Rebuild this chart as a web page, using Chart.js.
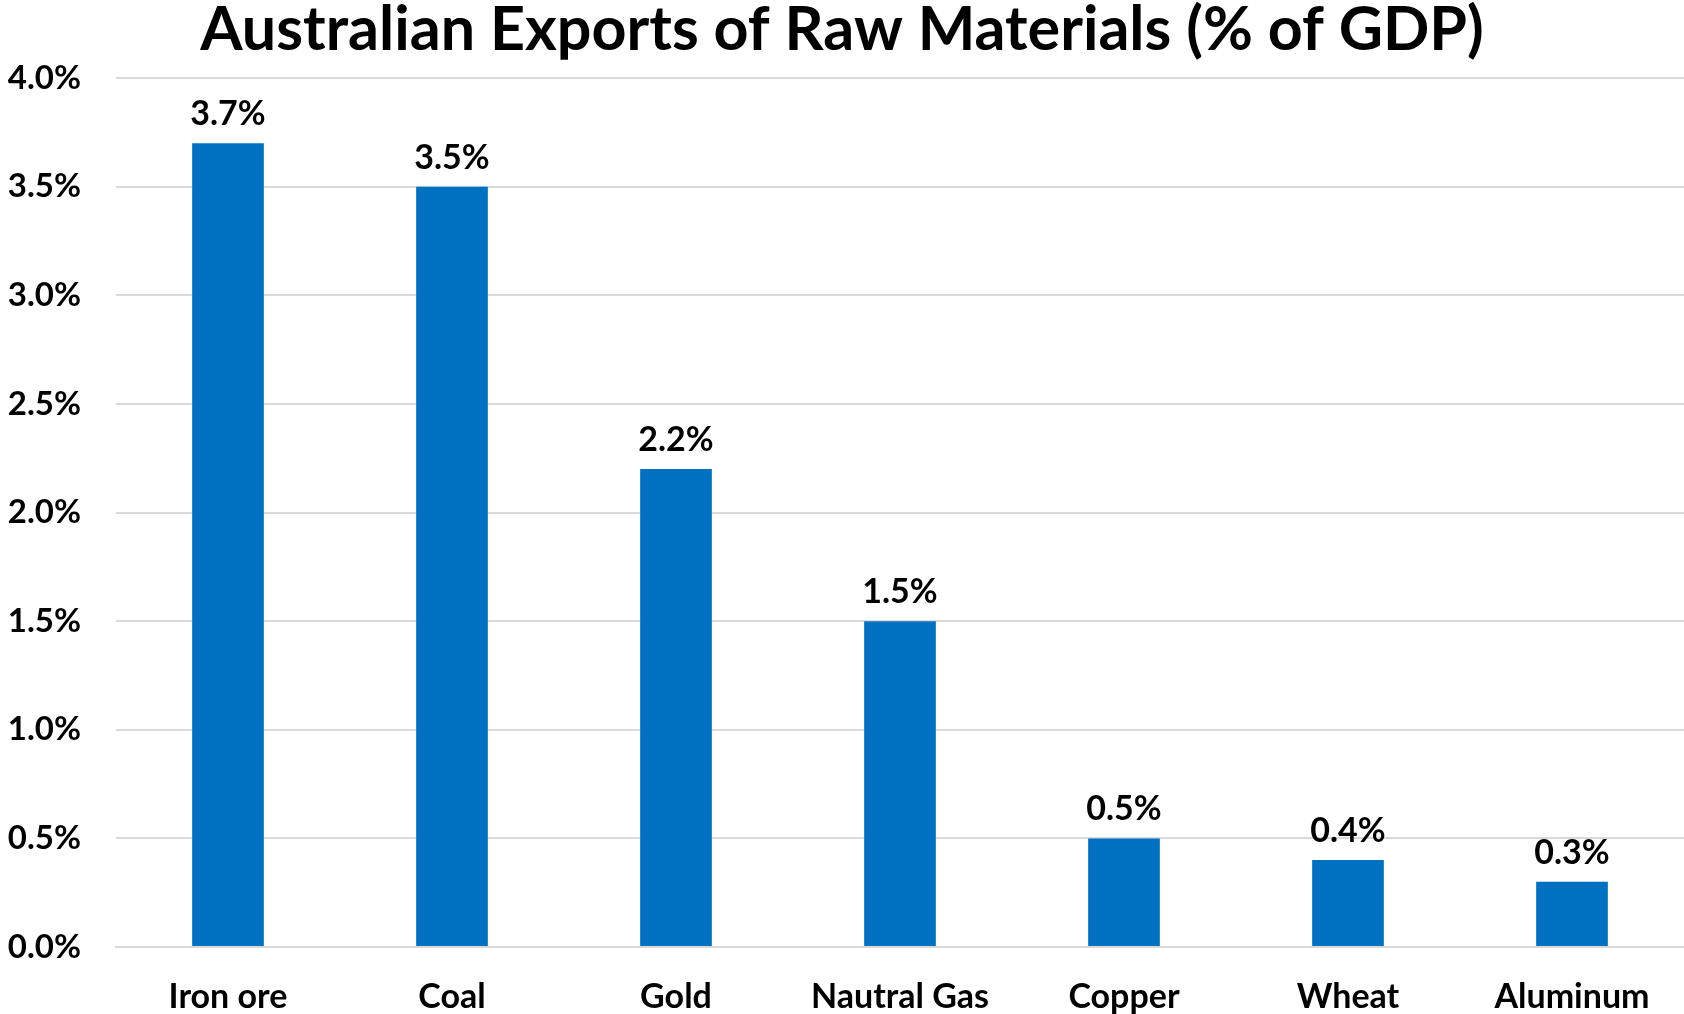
<!DOCTYPE html>
<html>
<head>
<meta charset="utf-8">
<title>Australian Exports of Raw Materials</title>
<script src="https://cdn.jsdelivr.net/npm/chart.js@4.4.1/dist/chart.umd.min.js"></script>
<style>
  html, body { margin: 0; padding: 0; background: #fff; }
  #wrap { width: 1684px; height: 1014px; }
</style>
</head>
<body>
<div id="wrap"><canvas id="exportsChart" width="1684" height="1014"></canvas></div>
<script>
const commodities = ['Iron ore', 'Coal', 'Gold', 'Nautral Gas', 'Copper', 'Wheat', 'Aluminum'];
const shareOfGdp = [3.7, 3.5, 2.2, 1.5, 0.5, 0.4, 0.3];
const yTicks = [0, 0.5, 1.0, 1.5, 2.0, 2.5, 3.0, 3.5, 4.0];

const FONT = 'Lato, "Open Sans", sans-serif';
const BAR_BLUE = '#0070C0';

// value labels above each bar
const barValueLabels = {
  id: 'barValueLabels',
  afterDatasetsDraw(chart) {
    const { ctx } = chart;
    const meta = chart.getDatasetMeta(0);
    ctx.save();
    ctx.font = `bold 34px ${FONT}`;
    ctx.fillStyle = '#000';
    ctx.textAlign = 'center';
    ctx.textBaseline = 'alphabetic';
    meta.data.forEach((bar, i) => {
      ctx.fillText(shareOfGdp[i].toFixed(1) + '%', bar.x, bar.y - 18);
    });
    ctx.restore();
  }
};

const ctx = document.getElementById('exportsChart').getContext('2d');
new Chart(ctx, {
  type: 'bar',
  data: {
    labels: commodities,
    datasets: [{
      label: 'Exports (% of GDP)',
      data: shareOfGdp,
      backgroundColor: BAR_BLUE,
      borderWidth: 0,
      barPercentage: 0.32,
      categoryPercentage: 1.0
    }]
  },
  options: {
    responsive: false,
    animation: false,
    layout: { padding: 0 },
    scales: {
      y: {
        min: 0,
        max: 4,
        afterBuildTicks: scale => {
          scale.ticks = yTicks.map(v => ({ value: v }));
        },
        afterFit: scale => { scale.width = 116; },
        border: { display: false },
        grid: { color: '#d9d9d9', lineWidth: 2, drawTicks: false },
        ticks: {
          padding: 35,
          color: '#000',
          font: { family: FONT, size: 33, weight: 'bold' },
          callback: v => v.toFixed(1) + '%'
        }
      },
      x: {
        afterFit: scale => { scale.height = 67; },
        border: { color: '#d9d9d9', width: 2 },
        grid: { display: false, drawTicks: false },
        ticks: {
          padding: 30,
          color: '#000',
          maxRotation: 0,
          autoSkip: false,
          font: { family: FONT, size: 34, weight: 'bold' }
        }
      }
    },
    plugins: {
      legend: { display: false },
      tooltip: { enabled: false },
      title: {
        display: true,
        text: 'Australian Exports of Raw Materials (% of GDP)',
        color: '#000',
        font: { family: FONT, size: 61, weight: 'bold', lineHeight: 1.0 },
        padding: { top: 0, bottom: 17 }
      }
    }
  },
  plugins: [barValueLabels]
});
</script>
</body>
</html>
